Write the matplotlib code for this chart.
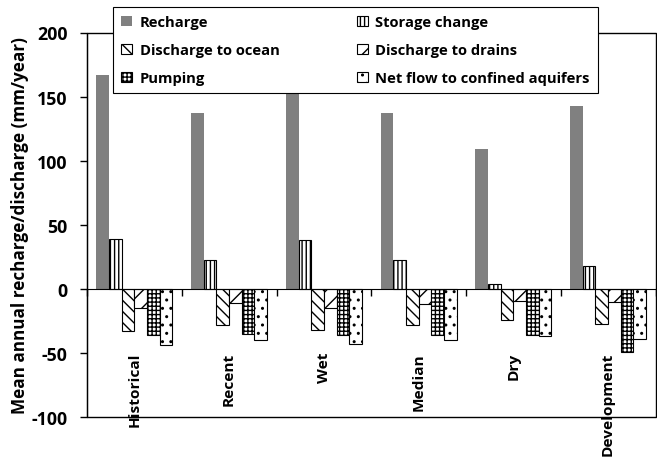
import matplotlib
matplotlib.use("Agg")
import matplotlib.pyplot as plt
import numpy as np
from matplotlib.patches import Rectangle
from matplotlib import font_manager as fm

# pick a family that really has a bold face
fam = 'DejaVu Sans'
for cand in ['Open Sans', 'Noto Sans', 'Lato', 'Roboto', 'Liberation Sans']:
    try:
        p = fm.findfont(fm.FontProperties(family=cand, weight='bold'), fallback_to_default=False)
        if 'bold' in p.lower():
            fam = cand
            break
    except Exception:
        pass
plt.rcParams['font.family'] = [fam, 'DejaVu Sans']
plt.rcParams['font.weight'] = 'bold'
plt.rcParams['hatch.linewidth'] = 1.0

categories = ["Historical", "Recent", "Wet", "Median", "Dry", "Development"]
series_names = ["Recharge", "Storage change", "Discharge to ocean",
                "Discharge to drains", "Pumping", "Net flow to confined aquifers"]
recharge = [167, 137, 178, 137, 109, 143]
storage_change = [39, 23, 38, 23, 4, 18]
discharge_ocean = [-33, -28, -32, -28, -24, -27]
discharge_drains = [-15, -11, -15, -12, -9, -10]
pumping = [-36, -35, -36, -36, -36, -49]
net_flow = [-44, -40, -43, -40, -37, -39]
yticks = [-100, -50, 0, 50, 100, 150, 200]
ylabel = "Mean annual recharge/discharge (mm/year)"

series = [recharge, storage_change, discharge_ocean, discharge_drains, pumping, net_flow]
styles = [
    dict(color="#808080", edgecolor="#808080", hatch=None),
    dict(color="white", edgecolor="black", hatch="||||"),
    dict(color="white", edgecolor="black", hatch="\\\\\\"),
    dict(color="white", edgecolor="black", hatch="//"),
    dict(color="white", edgecolor="black", hatch="++++"),
    dict(color="white", edgecolor="black", hatch=".."),
]

fig = plt.figure(figsize=(6.57, 4.6), dpi=100)
renderer = fig.canvas.get_renderer()


def fit_size(s, target_px):
    t = fig.text(0, 0, s, fontsize=10, fontweight='bold')
    w = t.get_window_extent(renderer).width
    t.remove()
    return 10 * target_px / w


cat_fs = fit_size("Development", 103)
tick_fs = fit_size("-100", 36)
ylab_fs = fit_size(ylabel, 376)
leg_fs = fit_size("Net flow to confined aquifers", 216)

ax = fig.add_axes([87/657, 1-418.3/460, 568.5/657, (418.3-33.5)/460])

n = len(series)
gap = 1.5
bw = 1.0 / (n + gap)
x = np.arange(len(categories))
handles = []
for i, (vals, st) in enumerate(zip(series, styles)):
    pos = x - 0.5 + bw * gap / 2 + bw * (i + 0.5)
    b = ax.bar(pos, vals, width=bw, color=st["color"], edgecolor=st["edgecolor"],
               hatch=st["hatch"], linewidth=0.8 if i else 0, label=series_names[i], zorder=2)
    handles.append(b)

ax.set_xlim(-0.5, len(categories) - 0.5)
ax.set_ylim(-100, 200)
ax.set_yticks(yticks)
ax.set_yticklabels([str(v) for v in yticks], fontsize=tick_fs, fontweight='bold')
ax.tick_params(axis='y', direction='out', length=5, width=1, pad=9)

ax.spines['bottom'].set_position(('data', 0))
ax.set_xticks(np.arange(len(categories) + 1) - 0.5)
ax.set_xticklabels([])
ax.tick_params(axis='x', direction='out', length=5, width=1)
for s in ['top', 'right']:
    ax.spines[s].set_visible(False)
ax.add_patch(Rectangle((0, 0), 1, 1, transform=ax.transAxes, fill=False,
                       edgecolor='black', linewidth=1, zorder=3, clip_on=False))

for xi, c in zip(x, categories):
    ax.text(xi, -49, c, rotation=90, ha='center', va='top', fontsize=cat_fs,
            fontweight='bold', zorder=4)

ax.set_ylabel(ylabel, fontsize=ylab_fs, fontweight='bold', labelpad=2)

order = [0, 2, 4, 1, 3, 5]
leg = ax.legend([handles[i] for i in order], [series_names[i] for i in order],
                ncol=2, loc='upper left', mode='expand',
                bbox_to_anchor=(113/657, 1-88/460, 485/657, 80/460),
                bbox_transform=fig.transFigure, borderaxespad=0,
                frameon=True, fancybox=False, framealpha=1,
                handlelength=0.75, handleheight=0.75, handletextpad=0.5,
                labelspacing=0.95, borderpad=0.55,
                prop={'weight': 'bold', 'size': leg_fs})
leg.get_frame().set_edgecolor('black')
leg.get_frame().set_linewidth(0.8)
leg.set_zorder(10)

fig.savefig("out.png", dpi=100)
